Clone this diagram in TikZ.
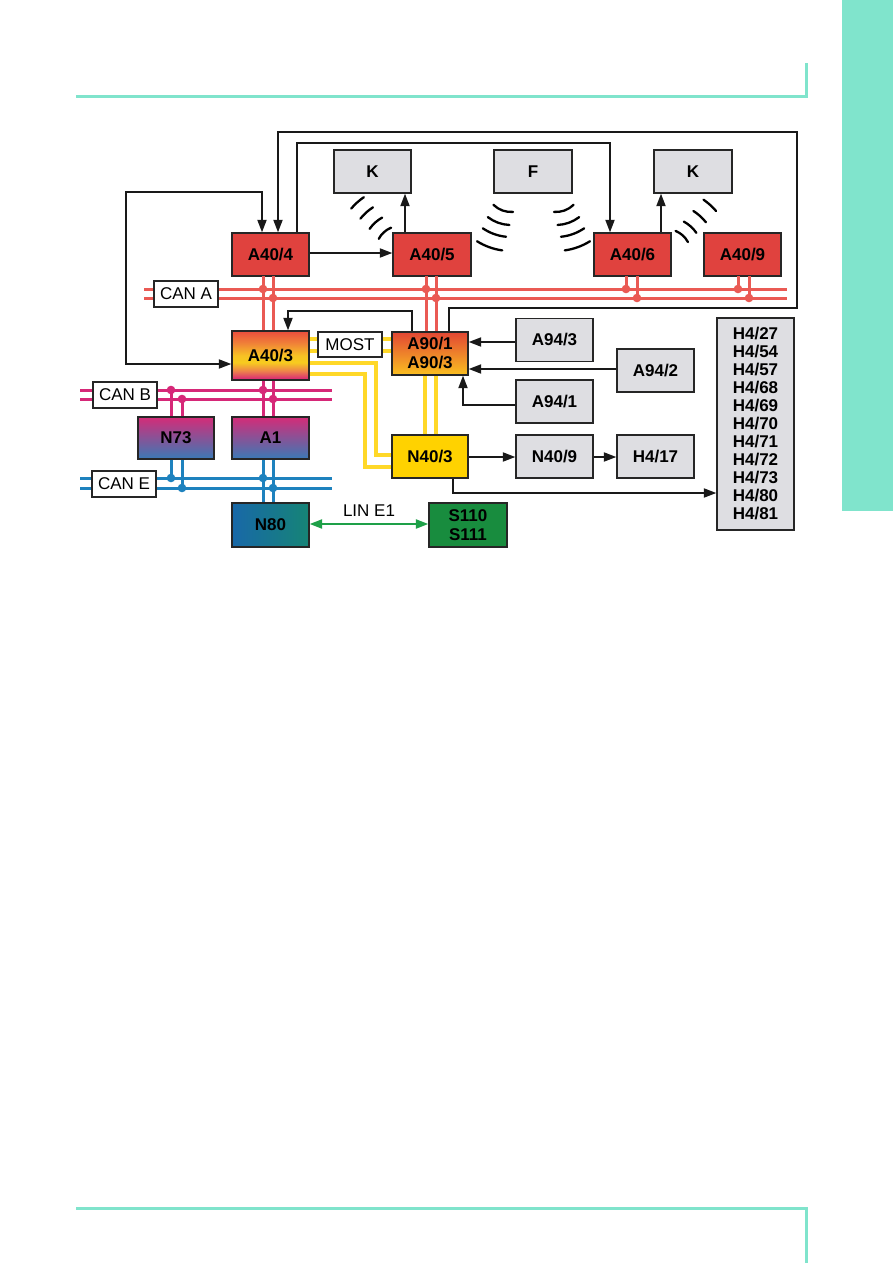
\documentclass[tikz,border=0pt]{standalone}
\usepackage{fontspec}
\setmainfont{Liberation Sans}
\usetikzlibrary{arrows.meta}
\definecolor{pageteal}{RGB}{128,228,204}
\definecolor{boxred}{RGB}{224,66,62}
\definecolor{busred}{RGB}{234,90,84}
\definecolor{busmag}{RGB}{214,40,120}
\definecolor{busblue}{RGB}{30,130,190}
\definecolor{busyel}{RGB}{255,216,40}
\definecolor{boxgray}{RGB}{222,222,226}
\definecolor{boxyel}{RGB}{255,210,0}
\definecolor{boxgreen}{RGB}{24,140,62}
\definecolor{lingreen}{RGB}{30,160,72}
\pgfdeclareverticalshading{atriple}{100bp}{%
  rgb(0bp)=(0.86,0.2,0.44); rgb(27bp)=(0.86,0.2,0.44); rgb(34bp)=(0.93,0.5,0.3);
  rgb(43bp)=(0.97,0.8,0.12); rgb(50bp)=(0.97,0.76,0.14); rgb(63bp)=(0.94,0.5,0.22); rgb(75bp)=(0.91,0.3,0.24); rgb(100bp)=(0.91,0.3,0.24)}
\begin{document}
\begin{tikzpicture}[x=1pt,y=-1pt,
 box/.style={draw=black!85, line width=1.3pt, inner sep=0pt, align=center,
   minimum width=77pt, minimum height=43pt, font=\fontsize{17}{19}\selectfont\bfseries},
 redbox/.style={box, fill=boxred},
 graybox/.style={box, fill=boxgray},
 tag/.style={draw=black!85, line width=1.3pt, fill=white, inner sep=0pt,
   minimum width=64pt, minimum height=26pt, font=\fontsize{17}{19}\selectfont},
 arr/.style={draw=black!90, line width=1.9pt, -{Triangle[length=12.5pt,width=9pt]}},
 dblarr/.style={line width=1.9pt, {Triangle[length=12.5pt,width=9pt]}-{Triangle[length=12.5pt,width=9pt]}},
 rbus/.style={draw=busred, line width=3pt},
 mbus/.style={draw=busmag, line width=3pt},
 bbus/.style={draw=busblue, line width=3pt},
 ybus/.style={draw=busyel, line width=3.2pt},
 wave/.style={draw=black, line width=2.3pt, line cap=round}]
\useasboundingbox (0,0) rectangle (893,1263);
\fill[white] (0,0) rectangle (893,1263);
% page decoration
\fill[pageteal] (842,0) rectangle (893,511);
\draw[pageteal, line width=3pt] (76,96) -- (806,96) -- (806,63);
\draw[pageteal, line width=3pt] (76,1208.5) -- (806,1208.5) -- (806,1263);

% ---- nodes
\node[graybox] (k1) at (372.5,171.5) {K};
\node[graybox, minimum width=78pt] (f) at (533,171.5) {F};
\node[graybox, minimum width=78pt] (k2) at (693,171.5) {K};
\node[redbox] (a404) at (270.5,254.5) {A40/4};
\node[redbox, minimum width=78pt] (a405) at (432,254.5) {A40/5};
\node[redbox] (a406) at (632.5,254.5) {A40/6};
\node[redbox] (a409) at (742.5,254.5) {A40/9};
\node[graybox] (a943) at (554.5,340) {A94/3};
\node[graybox] (a942) at (655.5,370.5) {A94/2};
\node[graybox] (a941) at (554.5,401.5) {A94/1};
\node[graybox, minimum height=212pt, font=\fontsize{17}{18}\selectfont\bfseries] (h4) at (755.5,424)
 {H4/27\\H4/54\\H4/57\\H4/68\\H4/69\\H4/70\\H4/71\\H4/72\\H4/73\\H4/80\\H4/81};
\node[graybox] (n409) at (554.5,456.5) {N40/9};
\node[graybox] (h417) at (655.5,456.5) {H4/17};

% ---- buses (drawn under the boxes)
\draw[rbus] (144,289) -- (787,289);
\draw[rbus] (144,298) -- (787,298);
\draw[rbus] (263,276) -- (263,331);
\draw[rbus] (273,276) -- (273,331);
\draw[rbus] (426,276) -- (426,332);
\draw[rbus] (436,276) -- (436,332);
\draw[rbus] (626,276) -- (626,289);
\draw[rbus] (637,276) -- (637,298);
\draw[rbus] (738,276) -- (738,289);
\draw[rbus] (749,276) -- (749,298);
\foreach \p in {(263,289),(273,298),(426,289),(436,298),(626,289),(637,298),(738,289),(749,298)}
  \fill[busred] \p circle (4.3pt);

\draw[mbus] (80,390) -- (332,390);
\draw[mbus] (80,399) -- (332,399);
\draw[mbus] (171,390) -- (171,417);
\draw[mbus] (182,399) -- (182,417);
\draw[mbus] (263,380) -- (263,417);
\draw[mbus] (273,380) -- (273,417);
\foreach \p in {(171,390),(182,399),(263,390),(273,399)}
  \fill[busmag] \p circle (4.3pt);

\draw[bbus] (80,478) -- (332,478);
\draw[bbus] (80,488) -- (332,488);
\draw[bbus] (171,459) -- (171,478);
\draw[bbus] (182,459) -- (182,488);
\draw[bbus] (263,459) -- (263,503);
\draw[bbus] (273,459) -- (273,503);
\foreach \p in {(171,478),(182,488),(263,478),(273,488)}
  \fill[busblue] \p circle (4.3pt);

\draw[ybus] (309,339) -- (392,339);
\draw[ybus] (309,351) -- (392,351);
\draw[ybus] (309,363) -- (376,363) -- (376,455) -- (392,455);
\draw[ybus] (309,374) -- (365,374) -- (365,467) -- (392,467);
\draw[ybus] (425,375) -- (425,435);
\draw[ybus] (436,375) -- (436,435);

% ---- remaining nodes
\node[tag] (cana) at (186,294) {CAN A};
\node[tag] (canb) at (125,395) {CAN B};
\node[tag] (cane) at (124,484) {CAN E};
\node[tag, minimum height=25pt] (most) at (350,344.5) {MOST};
\node[box, minimum height=49pt, shading=atriple] (a403) at (270.5,355.5) {A40/3};
\node[box, minimum width=76pt, top color={rgb,255:red,226;green,70;blue,52},
  bottom color={rgb,255:red,250;green,192;blue,32}] (a90) at (430,353.5) {A90/1\\A90/3};
\node[box, minimum width=76pt, minimum height=42pt, top color={rgb,255:red,212;green,44;blue,120},
  bottom color={rgb,255:red,58;green,122;blue,182}] (n73) at (176,438) {N73};
\node[box, minimum height=42pt, top color={rgb,255:red,212;green,44;blue,120},
  bottom color={rgb,255:red,58;green,122;blue,182}] (a1) at (270.5,438) {A1};
\node[box, minimum width=76pt, fill=boxyel] (n403) at (430,456.5) {N40/3};
\node[box, minimum height=44pt, left color={rgb,255:red,24;green,104;blue,168},
  right color={rgb,255:red,22;green,132;blue,118}] (n80) at (270.5,525) {N80};
\node[box, minimum width=78pt, minimum height=44pt, fill=boxgreen] (s110) at (468,525) {S110\\S111};

% ---- black connectors
\draw[arr] (449,0 |- a90.north) -- (449,308) -- (797,308) -- (797,132) -- (278,132) -- (278,0 |- a404.north);
\draw[arr] (297,0 |- a404.north) -- (297,143) -- (610,143) -- (610,0 |- a406.north);
\draw[dblarr, draw=black!90]
  (262,0 |- a404.north) -- (262,192) -- (126,192) -- (126,364) -- (a403.west |- 0,364);
\draw[arr] (a404.east |- 0,253) -- (a405.west |- 0,253);
\draw[arr] (405,0 |- a405.north) -- (405,0 |- k1.south);
\draw[arr] (661,0 |- a406.north) -- (661,0 |- k2.south);
\draw[arr] (412,0 |- a90.north) -- (412,311) -- (288,311) -- (288,0 |- a403.north);
\draw[arr] (a943.west |- 0,342) -- (a90.east |- 0,342);
\draw[arr] (a942.west |- 0,369) -- (a90.east |- 0,369);
\draw[arr] (a941.west |- 0,405) -- (463,405) -- (463,0 |- a90.south);
\draw[arr] (n403.east |- 0,457) -- (n409.west |- 0,457);
\draw[arr] (n409.east |- 0,457) -- (h417.west |- 0,457);
\draw[arr] (453,0 |- n403.south) -- (453,493) -- (h4.west |- 0,493);
\draw[dblarr, draw=lingreen, line width=2.2pt]
  (n80.east |- 0,524) -- node[above=3pt, text=black, font=\fontsize{17}{19}\selectfont] {LIN E1} (s110.west |- 0,524);

% ---- radio waves
\foreach \r in {24,37,50.5,64}
  \draw[wave] (400,250) ++({-132-8.5/\r*57.3}:\r) arc[start angle={-132-8.5/\r*57.3}, end angle={-132+8.5/\r*57.3}, radius=\r];
\foreach \r in {25,37,51,66}
  \draw[wave] (666,254) ++({-48-8.5/\r*57.3}:\r) arc[start angle={-48-8.5/\r*57.3}, end angle={-48+8.5/\r*57.3}, radius=\r];
\foreach \r in {25,38,50,64}{
  \draw[wave] (511,187) ++({110-(9+0.07*\r)/\r*57.3}:\r) arc[start angle={110-(9+0.07*\r)/\r*57.3}, end angle={110+(9+0.07*\r)/\r*57.3}, radius=\r];
  \draw[wave] (556,187) ++({70-(9+0.07*\r)/\r*57.3}:\r) arc[start angle={70-(9+0.07*\r)/\r*57.3}, end angle={70+(9+0.07*\r)/\r*57.3}, radius=\r];
}
\end{tikzpicture}
\end{document}
